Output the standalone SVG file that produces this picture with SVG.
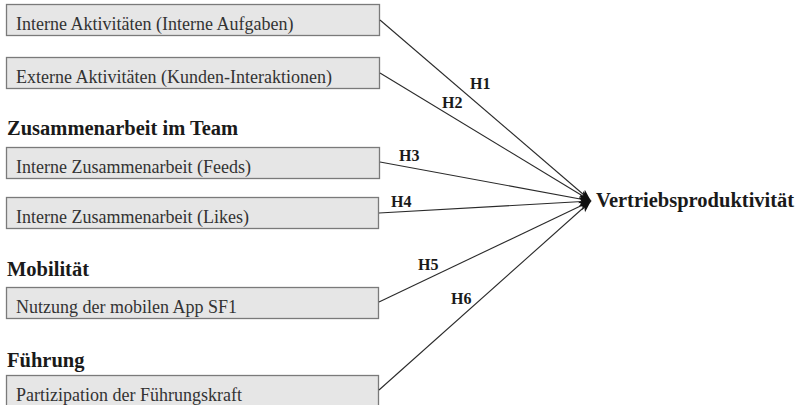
<svg xmlns="http://www.w3.org/2000/svg" width="800" height="405" viewBox="0 0 800 405">
  <defs>
    <marker id="arrow" viewBox="0 0 12 12" refX="12" refY="6" markerWidth="12" markerHeight="12" markerUnits="userSpaceOnUse" orient="auto">
      <path d="M0,1.5 L12,6 L0,10.5 L3,6 Z" fill="#111"/>
    </marker>
  </defs>
  <style>
    .box { fill: #e6e6e6; stroke: #7a7a7a; stroke-width: 1.3; }
    .label { font-family: "Liberation Serif", "Times New Roman", serif; font-size: 18px; fill: #333; }
    .head { font-family: "Liberation Serif", "Times New Roman", serif; font-size: 20.5px; font-weight: bold; fill: #1a1a1a; }
    .hyp { font-family: "Liberation Serif", "Times New Roman", serif; font-size: 16px; font-weight: bold; fill: #1a1a1a; }
    .edge { stroke: #2a2a2a; stroke-width: 1.1; fill: none; marker-end: url(#arrow); }
  </style>
  <rect width="800" height="405" fill="#fff"/>

  <!-- section headings -->
  <text class="head" x="7" y="135">Zusammenarbeit im Team</text>
  <text class="head" x="7" y="276">Mobilität</text>
  <text class="head" x="7" y="367">Führung</text>

  <g id="n1"><rect class="box" x="6.5" y="4.5" width="373" height="31"/><text class="label" x="16" y="29.5">Interne Aktivitäten (Interne Aufgaben)</text></g>
  <g id="n2"><rect class="box" x="6.5" y="57.5" width="373" height="31"/><text class="label" x="16" y="82.5">Externe Aktivitäten (Kunden-Interaktionen)</text></g>
  <g id="n3"><rect class="box" x="6.5" y="147.5" width="373" height="31"/><text class="label" x="16" y="172.5">Interne Zusammenarbeit (Feeds)</text></g>
  <g id="n4"><rect class="box" x="6.5" y="197.5" width="372" height="31"/><text class="label" x="16" y="222.5">Interne Zusammenarbeit (Likes)</text></g>
  <g id="n5"><rect class="box" x="6.5" y="287.5" width="372" height="31"/><text class="label" x="16" y="312.5">Nutzung der mobilen App SF1</text></g>
  <g id="n6"><rect class="box" x="6.5" y="375.5" width="372" height="35"/><text class="label" x="16" y="400.5">Partizipation der Führungskraft</text></g>

  <g id="target"><text class="head" x="596" y="207">Vertriebsproduktivität</text></g>

  <g id="connectors">
    <line class="edge" x1="380" y1="20" x2="591" y2="201"/>
    <line class="edge" x1="380" y1="73" x2="591" y2="201"/>
    <line class="edge" x1="380" y1="162" x2="591" y2="201"/>
    <line class="edge" x1="379" y1="213" x2="591" y2="201"/>
    <line class="edge" x1="379" y1="302" x2="591" y2="201"/>
    <line class="edge" x1="379" y1="390" x2="591" y2="201"/>
    <text class="hyp" x="470" y="89">H1</text>
    <text class="hyp" x="442" y="108">H2</text>
    <text class="hyp" x="399" y="161">H3</text>
    <text class="hyp" x="391" y="207">H4</text>
    <text class="hyp" x="418" y="270">H5</text>
    <text class="hyp" x="451" y="304">H6</text>
  </g>
</svg>
